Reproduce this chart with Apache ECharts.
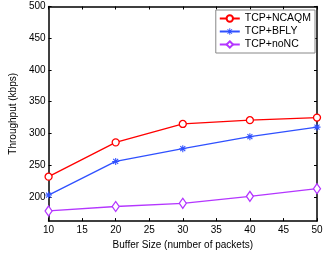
<!DOCTYPE html>
<html><head><meta charset="utf-8">
<script src="https://cdn.jsdelivr.net/npm/echarts@6/dist/echarts.min.js"></script>
<style>html,body{margin:0;padding:0;background:#fff}#c{width:327px;height:255px}</style>
</head><body><div id="c"></div>
<script>
var bufferSizes = [10, 20, 30, 40, 50];
var ncaqm = [232, 286, 315, 321, 325];
var bfly = [203, 256, 276, 295, 310];
var nonc = [178, 185, 190, 201, 213];
var seriesNames = ['TCP+NCAQM', 'TCP+BFLY', 'TCP+noNC'];
var yTicks = [200, 250, 300, 350, 400, 450, 500];
var xTicks = [10, 15, 20, 25, 30, 35, 40, 45, 50];

var star = 'path://M-10,-1.5L10,-1.5L10,1.5L-10,1.5Z M1.5,-10L1.5,10L-1.5,10L-1.5,-10Z M-6.01,-8.13L8.13,6.01L6.01,8.13L-8.13,-6.01Z M-8.13,6.01L6.01,-8.13L8.13,-6.01L-6.01,8.13Z';
var font = 'Liberation Sans';
function pairs(ys){ return bufferSizes.map(function(x,i){return [x, ys[i]];}); }
var axisLineStyle = {color:'#000', width:1.5};
var chart = echarts.init(document.getElementById('c'), null, {renderer:'canvas'});
chart.setOption({
  animation:false,
  backgroundColor:'#fff',
  textStyle:{fontFamily:font},
  grid:{left:39.5, right:10, top:6.5, bottom:28.5, containLabel:false},
  legend:{
    orient:'vertical', right:12, top:10,
    backgroundColor:'#fff', borderColor:'#888', borderWidth:1,
    padding:[3,4,3,3], itemGap:2, itemWidth:20, itemHeight:8,
    textStyle:{fontFamily:font, fontSize:10.5, color:'#000'},
    data:seriesNames
  },
  xAxis:[{
    type:'value', min:10, max:50, interval:5, position:'bottom',
    name:'Buffer Size (number of packets)', nameLocation:'middle', nameGap:17,
    nameTextStyle:{fontFamily:font, fontSize:10, color:'#000'},
    axisLine:{lineStyle:axisLineStyle},
    axisTick:{inside:true, length:3, lineStyle:{color:'#000'}},
    axisLabel:{fontFamily:font, fontSize:10, color:'#000', margin:4},
    splitLine:{show:false}
  },{
    type:'value', min:10, max:50, interval:5, position:'top',
    axisLine:{lineStyle:axisLineStyle},
    axisTick:{inside:true, length:3, lineStyle:{color:'#000'}},
    axisLabel:{show:false}, splitLine:{show:false}
  }],
  yAxis:[{
    type:'value', min:162, max:500, position:'left',
    name:'Throughput (kbps)', nameLocation:'middle', nameGap:28,
    nameTextStyle:{fontFamily:font, fontSize:10, color:'#000'},
    axisLine:{lineStyle:axisLineStyle},
    axisTick:{inside:true, length:3, lineStyle:{color:'#000'}, customValues:yTicks},
    axisLabel:{fontFamily:font, fontSize:10, color:'#000', margin:3, customValues:yTicks},
    splitLine:{show:false}
  },{
    type:'value', min:162, max:500, position:'right',
    axisLine:{lineStyle:axisLineStyle},
    axisTick:{inside:true, length:3, lineStyle:{color:'#000'}, customValues:yTicks},
    axisLabel:{show:false, customValues:yTicks}, splitLine:{show:false}
  }],
  series:[{
    name:seriesNames[0], type:'line', data:pairs(ncaqm),
    symbol:'circle', symbolSize:7, showAllSymbol:true,
    lineStyle:{color:'#ff0000', width:1.3},
    itemStyle:{color:'#fff', borderColor:'#ff0000', borderWidth:1.3}
  },{
    name:seriesNames[1], type:'line', data:pairs(bfly),
    symbol:star, symbolSize:7,
    lineStyle:{color:'#2f50ff', width:1.3},
    itemStyle:{color:'#2f50ff', borderColor:'#2f50ff', borderWidth:0}
  },{
    name:seriesNames[2], type:'line', data:pairs(nonc),
    symbol:'diamond', symbolSize:[7,10],
    lineStyle:{color:'#b436ff', width:1.3},
    itemStyle:{color:'#fff', borderColor:'#b436ff', borderWidth:1.3}
  }]
});
</script></body></html>
